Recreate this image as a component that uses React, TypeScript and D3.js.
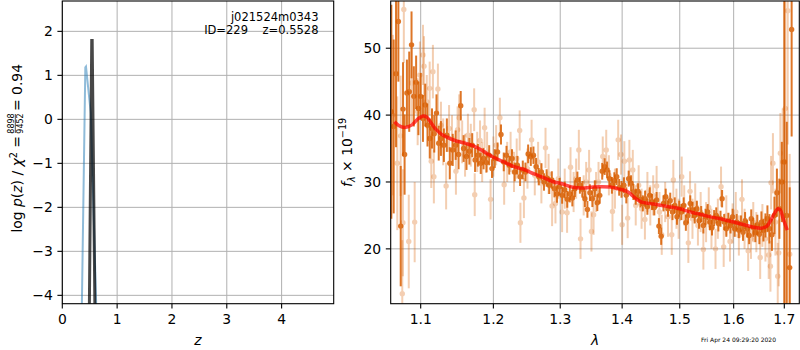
import React from "react";
import * as d3 from "d3";

// redshift panel
const zTicks = [0, 1, 2, 3, 4];
const logpTicks = [-4, -3, -2, -1, 0, 1, 2];
const pzPrior: [number, number][] = [
  [0.33, -6.4], [0.357, -4.2], [0.42, 1.18], [0.432, 1.2], [0.52, 0.14], [0.618, -4.2], [0.64, -5.2],
];
const pzBest: [number, number][] = [
  [0.48, -6], [0.494, -4.2], [0.537, 1.79], [0.545, 1.79], [0.594, -4.2], [0.61, -6],
];

// spectrum panel
const waveTicks = [1.1, 1.2, 1.3, 1.4, 1.5, 1.6, 1.7];
const fluxTicks = [20, 30, 40, 50];

// [wave, flux, err]
const specMain: [number, number, number][] = [
  [1.062, 40.5, 16], [1.065, 38.3, 13], [1.068, 46.2, 11], [1.071, 54.0, 9], [1.074, 23.4, 9],
  [1.077, 40.9, 7], [1.079, 34.1, 6], [1.082, 43.3, 5], [1.085, 43.5, 6], [1.088, 50.5, 5],
  [1.091, 42.8, 4.5], [1.094, 44.9, 4], [1.097, 41.0, 4], [1.1, 42.8, 3.5], [1.103, 39.5, 3.5],
  [1.106, 41.5, 3.2], [1.109, 38.5, 3.2], [1.112, 36.5, 3], [1.115, 38.0, 3], [1.118, 37.2, 2.8],
  [1.121, 40.3, 2.8], [1.124, 35.8, 2.6], [1.127, 36.5, 2.6], [1.131, 35.5, 2.5], [1.135, 37.0, 2.5],
  [1.139, 32.8, 2.4], [1.143, 34.8, 2.4], [1.147, 35.5, 2.2], [1.151, 34.1, 2.2], [1.154, 41.4, 2.2],
  [1.158, 35.0, 2], [1.162, 33.8, 2], [1.166, 34.6, 2], [1.17, 35.5, 1.8], [1.174, 33.3, 1.8],
  [1.178, 34.0, 1.7], [1.182, 32.8, 1.6], [1.186, 33.5, 1.6], [1.19, 32.9, 1.5], [1.194, 34.0, 1.5],
  [1.198, 32.0, 1.4], [1.202, 33.5, 1.4], [1.206, 34.5, 1.4], [1.211, 37.1, 1.5], [1.215, 33.0, 1.4],
  [1.219, 34.0, 1.4], [1.223, 32.5, 1.4], [1.227, 33.5, 1.4], [1.231, 31.5, 1.4], [1.235, 32.5, 1.4],
  [1.239, 30.8, 1.4], [1.243, 31.8, 1.4], [1.247, 31.5, 1.4], [1.251, 34.2, 1.4], [1.255, 33.8, 1.4],
  [1.259, 34.0, 1.3], [1.263, 32.3, 1.3], [1.267, 30.8, 1.3], [1.271, 31.5, 1.3], [1.275, 30.0, 1.3],
  [1.279, 30.6, 1.3], [1.283, 29.5, 1.3], [1.287, 30.3, 1.3], [1.291, 29.0, 1.3], [1.295, 28.2, 1.3],
  [1.299, 29.3, 1.3], [1.303, 28.0, 1.25], [1.307, 28.8, 1.25], [1.311, 27.4, 1.25], [1.315, 28.2, 1.25],
  [1.319, 27.6, 1.25], [1.323, 29.0, 1.25], [1.327, 30.3, 1.25], [1.331, 29.5, 1.25], [1.335, 28.9, 1.25],
  [1.339, 27.5, 1.25], [1.343, 25.9, 1.25], [1.347, 28.4, 1.25], [1.351, 27.5, 1.25], [1.355, 29.0, 1.25],
  [1.359, 26.9, 1.25], [1.363, 28.0, 1.25], [1.367, 31.6, 1.25], [1.371, 32.3, 1.25], [1.375, 31.8, 1.25],
  [1.379, 30.5, 1.25], [1.383, 29.5, 1.25], [1.387, 30.2, 1.25], [1.391, 30.8, 1.25], [1.395, 29.2, 1.25],
  [1.399, 28.9, 1.25], [1.403, 29.5, 1.2], [1.407, 28.0, 1.2], [1.411, 30.5, 1.2], [1.415, 29.8, 1.2],
  [1.419, 28.5, 1.2], [1.423, 27.8, 1.2], [1.427, 28.6, 1.2], [1.431, 27.4, 1.2], [1.435, 26.8, 1.2],
  [1.439, 27.5, 1.2], [1.443, 26.3, 1.2], [1.447, 28.0, 1.2], [1.451, 27.0, 1.2], [1.455, 26.2, 1.2],
  [1.459, 27.3, 1.2], [1.463, 23.4, 1.2], [1.467, 21.9, 1.3], [1.471, 26.8, 1.2], [1.475, 27.8, 1.2],
  [1.479, 26.0, 1.2], [1.483, 27.2, 1.2], [1.487, 25.5, 1.2], [1.491, 26.5, 1.2], [1.495, 24.8, 1.2],
  [1.499, 26.0, 1.2], [1.503, 25.5, 1.2], [1.507, 26.5, 1.2], [1.511, 23.9, 1.2], [1.515, 25.0, 1.2],
  [1.519, 26.8, 1.2], [1.523, 25.8, 1.2], [1.527, 25.0, 1.2], [1.531, 26.0, 1.2], [1.535, 24.2, 1.2],
  [1.539, 25.2, 1.2], [1.543, 23.5, 1.2], [1.547, 24.8, 1.2], [1.551, 25.5, 1.2], [1.555, 24.0, 1.2],
  [1.559, 23.2, 1.2], [1.563, 24.6, 1.2], [1.567, 25.0, 1.2], [1.571, 23.8, 1.2], [1.575, 24.5, 1.2],
  [1.578, 27.5, 1.3], [1.582, 24.0, 1.2], [1.586, 23.0, 1.2], [1.59, 24.2, 1.2], [1.594, 23.5, 1.2],
  [1.598, 24.8, 1.2], [1.602, 23.0, 1.2], [1.606, 24.0, 1.2], [1.61, 22.8, 1.2], [1.614, 23.8, 1.2],
  [1.618, 22.5, 1.3], [1.622, 24.2, 1.3], [1.626, 23.0, 1.3], [1.63, 22.0, 1.3], [1.634, 24.5, 1.4],
  [1.638, 23.2, 1.4], [1.642, 22.4, 1.4], [1.646, 23.6, 1.5], [1.65, 22.2, 1.5], [1.654, 24.0, 1.6],
  [1.658, 22.8, 1.7], [1.662, 23.5, 1.8], [1.666, 24.5, 2], [1.67, 23.0, 2.2], [1.675, 22.1, 2.4],
  [1.68, 25.0, 2.8], [1.685, 28.4, 3.6], [1.69, 26.0, 4.5], [1.695, 30.0, 6], [1.7, 33.0, 25],
  [1.705, 25.0, 14], [1.711, 17.2, 12], [1.715, 52.8, 16],
];

const specAlt: [number, number, number][] = [
  [1.064, 40.0, 12], [1.0696, 32.8, 10], [1.0739, 36.9, 9], [1.076, 13.3, 8], [1.0768, 23.9, 8],
  [1.078, 55.8, 8], [1.0844, 21.1, 7], [1.0883, 44.8, 6], [1.0921, 24.0, 6], [1.096, 40.5, 5],
  [1.099, 46.0, 5], [1.103, 49.0, 4.5], [1.1044, 47.3, 4.5], [1.108, 42.0, 4], [1.1119, 44.0, 4],
  [1.114, 33.1, 4], [1.1162, 46.5, 4], [1.1175, 30.8, 4], [1.1229, 43.9, 3.8], [1.127, 38.5, 3.5],
  [1.13, 36.0, 3.5], [1.134, 29.4, 3.5], [1.138, 38.0, 3.5], [1.142, 36.5, 3.5], [1.1474, 31.6, 3.5],
  [1.1497, 37.8, 3.5], [1.1519, 39.6, 3.5], [1.156, 36.0, 3.2], [1.16, 34.0, 3.2], [1.164, 37.0, 3.2],
  [1.168, 35.5, 3.2], [1.1727, 40.8, 3.2], [1.1735, 28.1, 3.2], [1.177, 34.5, 3], [1.181, 36.2, 3],
  [1.184, 33.0, 3], [1.1875, 38.1, 3], [1.191, 34.5, 3], [1.196, 27.4, 3], [1.2, 33.8, 3],
  [1.204, 35.5, 3], [1.2094, 39.6, 3], [1.2156, 29.6, 3], [1.22, 33.0, 3], [1.225, 34.5, 3],
  [1.23, 31.5, 3], [1.234, 33.5, 3], [1.2384, 37.7, 3], [1.2395, 23.9, 3], [1.2447, 27.6, 3],
  [1.25, 32.0, 3], [1.2562, 36.3, 3], [1.261, 31.0, 3], [1.266, 33.0, 3], [1.271, 29.8, 3],
  [1.2773, 35.1, 3], [1.282, 31.2, 3], [1.2874, 26.4, 3], [1.2926, 26.8, 3], [1.297, 30.5, 3],
  [1.3029, 25.5, 3], [1.307, 29.0, 3], [1.3107, 25.4, 3], [1.3161, 32.2, 3], [1.321, 28.5, 3],
  [1.325, 30.5, 3], [1.3293, 34.8, 3], [1.332, 21.5, 3], [1.337, 28.0, 3], [1.341, 30.0, 3],
  [1.3457, 31.8, 3], [1.3495, 22.6, 3], [1.353, 25.1, 3], [1.357, 28.5, 3], [1.361, 30.0, 3],
  [1.3679, 33.8, 3], [1.3736, 34.8, 3], [1.378, 31.0, 3], [1.3839, 25.6, 3], [1.388, 29.0, 3],
  [1.3934, 36.3, 3], [1.3981, 34.1, 3], [1.4, 23.6, 3], [1.4037, 33.1, 3], [1.4093, 24.6, 3],
  [1.4122, 33.3, 3], [1.418, 31.8, 3], [1.423, 26.5, 3], [1.428, 29.5, 3], [1.433, 26.0, 3],
  [1.4387, 24.4, 3], [1.443, 28.5, 3], [1.448, 26.5, 3], [1.453, 28.0, 3], [1.459, 29.4, 3],
  [1.464, 25.5, 3], [1.468, 22.1, 3], [1.474, 27.0, 3], [1.479, 24.8, 3], [1.4857, 22.1, 3],
  [1.4885, 30.3, 3], [1.494, 26.0, 3], [1.498, 24.5, 3], [1.5035, 30.8, 3], [1.508, 26.5, 3],
  [1.5155, 20.9, 3], [1.5186, 28.6, 3], [1.523, 24.5, 3], [1.528, 26.8, 3], [1.533, 23.5, 3],
  [1.538, 25.5, 3], [1.543, 19.9, 3], [1.548, 24.0, 3], [1.553, 26.2, 3], [1.558, 23.0, 3],
  [1.5656, 20.0, 3], [1.57, 24.5, 3], [1.576, 29.3, 3], [1.581, 20.3, 3], [1.586, 25.0, 3],
  [1.593, 21.1, 3], [1.598, 23.8, 3], [1.604, 25.5, 3], [1.61, 22.0, 3], [1.616, 27.4, 3],
  [1.621, 23.0, 3], [1.628, 19.7, 3], [1.6335, 21.5, 3], [1.638, 24.0, 3], [1.644, 22.5, 3],
  [1.6516, 18.7, 3.2], [1.656, 23.5, 3.2], [1.662, 21.5, 3.4], [1.6686, 19.1, 3.6], [1.672, 17.4, 3.8],
  [1.6733, 29.9, 4], [1.677, 32.8, 4.5], [1.682, 24.0, 5], [1.6867, 15.9, 5], [1.6887, 19.4, 5],
  [1.692, 34.3, 6], [1.6968, 33.0, 8], [1.702, 41.0, 30], [1.707, 55.6, 20], [1.711, 19.2, 15],
];

const model: [number, number][] = [
  [1.066, 39.0], [1.072, 38.4], [1.079, 38.15], [1.088, 38.5], [1.096, 39.4], [1.103, 39.85],
  [1.108, 39.7], [1.114, 38.8], [1.12, 37.9], [1.127, 37.2], [1.135, 36.7], [1.146, 36.2],
  [1.16, 35.8], [1.174, 35.3], [1.187, 34.5], [1.2, 33.7], [1.215, 33.0], [1.23, 32.3],
  [1.244, 31.9], [1.26, 31.2], [1.275, 30.6], [1.29, 30.0], [1.3, 29.8], [1.31, 29.5],
  [1.32, 29.2], [1.335, 29.1], [1.352, 29.25], [1.365, 29.3], [1.38, 29.25], [1.392, 29.0],
  [1.402, 28.8], [1.41, 28.5], [1.418, 27.9], [1.425, 27.4], [1.433, 27.0], [1.445, 26.8],
  [1.46, 26.6], [1.48, 26.3], [1.5, 26.0], [1.515, 25.6], [1.53, 25.3], [1.55, 24.9],
  [1.58, 24.4], [1.605, 23.9], [1.625, 23.5], [1.64, 23.2], [1.655, 23.1], [1.665, 23.4],
  [1.673, 24.3], [1.68, 25.3], [1.687, 26.0], [1.692, 25.8], [1.697, 24.7], [1.702, 23.6],
  [1.706, 22.8],
];

const FONT = "DejaVu Sans, sans-serif";
const ORANGE = "#d95f02";
const GRID = "#b0b0b0";

const pzBox = { left: 62.3, right: 333.7, top: 1, bottom: 303.7 };
const spBox = { left: 390.7, right: 799.3, top: 1, bottom: 303.7 };

const fmt = (v: number) => (v < 0 ? "\u2212" + Math.abs(v) : String(v));

export default function App() {
  const xz = d3.scaleLinear().domain([0, 4.95]).range([pzBox.left, pzBox.right]);
  const ylp = d3.scaleLinear().domain([-4.19, 2.69]).range([pzBox.bottom, pzBox.top]);
  const xw = d3.scaleLog().domain([1.0612, 1.7308]).range([spBox.left, spBox.right]);
  const yf = d3.scaleLinear().domain([11.8, 57.06]).range([spBox.bottom, spBox.top]);

  const pzLine = d3.line<[number, number]>().x((d) => xz(d[0])).y((d) => ylp(d[1]));
  const modelLine = d3
    .line<[number, number]>()
    .x((d) => xw(d[0]))
    .y((d) => yf(d[1]))
    .curve(d3.curveCatmullRom);

  const errPoints = (data: [number, number, number][], opacity: number, key: string) =>
    data.map(([w, f, e], i) => (
      <g key={key + i} opacity={opacity}>
        <line x1={xw(w)} x2={xw(w)} y1={yf(f - e)} y2={yf(f + e)} stroke={ORANGE} strokeWidth={2} />
        <circle cx={xw(w)} cy={yf(f)} r={2.7} fill={ORANGE} />
      </g>
    ));

  return (
    <svg
      width={800}
      height={350}
      style={{ position: "absolute", left: 0, top: 0, background: "#fff" }}
      fontFamily={FONT}
    >
      <defs>
        <clipPath id="pzclip">
          <rect x={pzBox.left} y={pzBox.top} width={pzBox.right - pzBox.left} height={pzBox.bottom - pzBox.top} />
        </clipPath>
        <clipPath id="spclip">
          <rect x={spBox.left} y={spBox.top} width={spBox.right - spBox.left} height={spBox.bottom - spBox.top} />
        </clipPath>
      </defs>
      <rect width={800} height={350} fill="#fff" />

      {/* p(z) panel */}
      {zTicks.map((t) => (
        <line key={"gz" + t} x1={xz(t)} x2={xz(t)} y1={pzBox.top} y2={pzBox.bottom} stroke={GRID} strokeWidth={1} />
      ))}
      {logpTicks.map((t) => (
        <line key={"gl" + t} x1={pzBox.left} x2={pzBox.right} y1={ylp(t)} y2={ylp(t)} stroke={GRID} strokeWidth={1} />
      ))}
      <g clipPath="url(#pzclip)" fill="none">
        <path d={pzLine(pzPrior) ?? ""} stroke="#1f77b4" strokeOpacity={0.5} strokeWidth={2} />
        <path d={pzLine(pzBest) ?? ""} stroke="#000" strokeOpacity={0.72} strokeWidth={3} />
      </g>
      <rect
        x={pzBox.left}
        y={pzBox.top}
        width={pzBox.right - pzBox.left}
        height={pzBox.bottom - pzBox.top}
        fill="none"
        stroke="#000"
        strokeWidth={1.1}
      />
      {zTicks.map((t) => (
        <g key={"tz" + t}>
          <line x1={xz(t)} x2={xz(t)} y1={pzBox.bottom} y2={pzBox.bottom + 4.9} stroke="#000" strokeWidth={1.1} />
          <text x={xz(t)} y={323.5} fontSize={13.9} textAnchor="middle">
            {fmt(t)}
          </text>
        </g>
      ))}
      {logpTicks.map((t) => (
        <g key={"tl" + t}>
          <line x1={pzBox.left - 4.9} x2={pzBox.left} y1={ylp(t)} y2={ylp(t)} stroke="#000" strokeWidth={1.1} />
          <text x={pzBox.left - 9.5} y={ylp(t)} dy="0.36em" fontSize={13.9} textAnchor="end">
            {fmt(t)}
          </text>
        </g>
      ))}
      <text x={318.5} y={20.5} fontSize={11.5} textAnchor="end">
        j021524m0343
      </text>
      <text x={318.5} y={34} fontSize={11.5} textAnchor="end" style={{ whiteSpace: "pre" }}>
        {"ID=229    z=0.5528"}
      </text>
      <text x={(pzBox.left + pzBox.right) / 2} y={344.5} fontSize={13.9} fontStyle="italic" textAnchor="middle">
        z
      </text>
      <g transform="translate(22,0) rotate(-90)" fontSize={13.9}>
        <text x={-136} textAnchor="end">
          log <tspan fontStyle="italic">p</tspan>(<tspan fontStyle="italic">z</tspan>) / <tspan fontStyle="italic">χ</tspan>
          <tspan fontSize={9.7} dy={-5}>2</tspan>
          <tspan dy={5}> =</tspan>
        </text>
        <text x={-123.5} y={-8} textAnchor="middle" fontSize={8}>
          8898
        </text>
        <line x1={-133} x2={-114} y1={-6.7} y2={-6.7} stroke="#000" strokeWidth={0.7} />
        <text x={-123.5} y={0.5} textAnchor="middle" fontSize={8}>
          9452
        </text>
        <text x={-111} textAnchor="start">
          = 0.94
        </text>
      </g>

      {/* spectrum panel */}
      {waveTicks.map((t) => (
        <line key={"gw" + t} x1={xw(t)} x2={xw(t)} y1={spBox.top} y2={spBox.bottom} stroke={GRID} strokeWidth={1} />
      ))}
      {fluxTicks.map((t) => (
        <line key={"gf" + t} x1={spBox.left} x2={spBox.right} y1={yf(t)} y2={yf(t)} stroke={GRID} strokeWidth={1} />
      ))}
      <g clipPath="url(#spclip)">
        {errPoints(specAlt, 0.3, "a")}
        {errPoints(specMain, 0.85, "m")}
        <path d={modelLine(model) ?? ""} fill="none" stroke="#ff0000" strokeOpacity={0.7} strokeWidth={3.5} />
      </g>
      <rect
        x={spBox.left}
        y={spBox.top}
        width={spBox.right - spBox.left}
        height={spBox.bottom - spBox.top}
        fill="none"
        stroke="#000"
        strokeWidth={1.1}
      />
      {waveTicks.map((t) => (
        <g key={"tw" + t}>
          <line x1={xw(t)} x2={xw(t)} y1={spBox.bottom} y2={spBox.bottom + 4.9} stroke="#000" strokeWidth={1.1} />
          <text x={xw(t)} y={323.5} fontSize={13.9} textAnchor="middle">
            {t.toFixed(1)}
          </text>
        </g>
      ))}
      {fluxTicks.map((t) => (
        <g key={"tf" + t}>
          <line x1={spBox.left - 4.9} x2={spBox.left} y1={yf(t)} y2={yf(t)} stroke="#000" strokeWidth={1.1} />
          <text x={spBox.left - 9.5} y={yf(t)} dy="0.36em" fontSize={13.9} textAnchor="end">
            {t}
          </text>
        </g>
      ))}
      <text x={(spBox.left + spBox.right) / 2} y={344.5} fontSize={13.9} fontStyle="italic" textAnchor="middle">
        λ
      </text>
      <g transform={`translate(352,${(spBox.top + spBox.bottom) / 2}) rotate(-90)`} fontSize={13.9}>
        <text textAnchor="middle">
          <tspan fontStyle="italic">f</tspan>
          <tspan fontStyle="italic" fontSize={9.7} dy={3}>
            λ
          </tspan>
          <tspan dy={-3}> × 10</tspan>
          <tspan fontSize={9.7} dy={-6}>
            −19
          </tspan>
        </text>
      </g>
      <text x={701} y={342} fontSize={6}>
        Fri Apr 24 09:29:20 2020
      </text>
    </svg>
  );
}
